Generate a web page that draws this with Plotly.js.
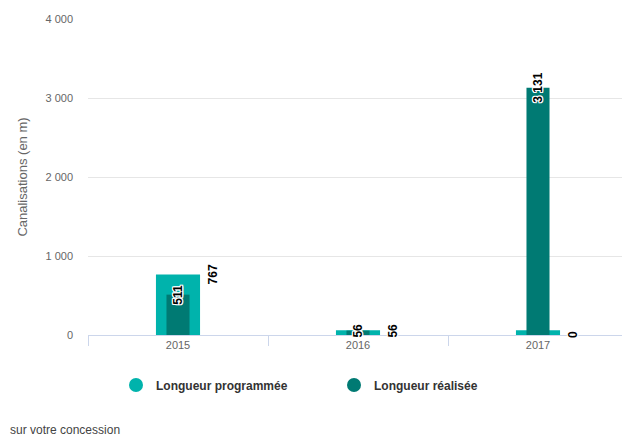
<!DOCTYPE html>
<html>
<head>
<meta charset="utf-8">
<script src="https://cdn.plot.ly/plotly-3.0.1.min.js"></script>
<style>
html,body{margin:0;padding:0;overflow:hidden;background:#fff;width:622px;height:436px;}
#chart{width:628px;height:436px;}
</style>
</head>
<body>
<div id="chart"></div>
<script>
const years = ["2015", "2016", "2017"];
const programmee = [767, 56, 0];
const realisee = [511, 56, 3131];
const seriesNames = ["Longueur programmée", "Longueur réalisée"];
const yTicks = [0, 1000, 2000, 3000, 4000];

const colProg = "#00b3ac";
const colReal = "#007a73";
const minPointLength = 60; // visual minimum bar height (like Highcharts minPointLength)

function fmt(v) {
  return String(v).replace(/\B(?=(\d{3})+(?!\d))/g, " ");
}

const outline = "1px 1px 0 #fff, -1px -1px 0 #fff, 1px -1px 0 #fff, -1px 1px 0 #fff, 0 1px 0 #fff, 0 -1px 0 #fff, 1px 0 0 #fff, -1px 0 0 #fff";

const traces = [
  {
    type: "bar", x: years, y: programmee.map(v => Math.max(v, minPointLength)),
    width: 0.245, marker: {color: colProg}, showlegend: false, hoverinfo: "skip"
  },
  {
    type: "bar", x: years, y: realisee,
    width: 0.128, marker: {color: colReal}, showlegend: false, hoverinfo: "skip"
  },
  {
    type: "scatter", mode: "markers", x: [years[0]], y: [null], name: seriesNames[0],
    marker: {color: colProg, size: 14, symbol: "circle"}
  },
  {
    type: "scatter", mode: "markers", x: [years[0]], y: [null], name: seriesNames[1],
    marker: {color: colReal, size: 14, symbol: "circle"}
  }
];

const labelFont = {family: "Liberation Sans, Arial, sans-serif", size: 12, color: "#000", weight: 700, shadow: outline};
const annotations = [];
years.forEach((yr, i) => {
  annotations.push({
    x: i, y: realisee[i], xref: "x", yref: "y", text: fmt(realisee[i]),
    showarrow: false, textangle: -90, xanchor: "center", yanchor: "middle",
    font: labelFont
  });
  annotations.push({
    x: i, y: programmee[i], xref: "x", yref: "y", text: fmt(programmee[i]),
    showarrow: false, textangle: -90, xanchor: "center", yanchor: "middle", xshift: 35,
    font: labelFont
  });
});
annotations.push({
  text: "sur votre concession", xref: "paper", yref: "paper",
  x: -80/540, y: -(430-335)/316, xanchor: "left", yanchor: "middle", showarrow: false,
  font: {family: "Liberation Sans, Arial, sans-serif", size: 12, color: "#444"}
});

const layout = {
  width: 628, height: 436,
  margin: {l: 88, r: 0, t: 19, b: 101},
  paper_bgcolor: "#fff", plot_bgcolor: "#fff",
  barmode: "overlay",
  separators: ", ",
  font: {family: "Liberation Sans, Arial, sans-serif", size: 11, color: "#666"},
  xaxis: {
    type: "category", categoryarray: years, categoryorder: "array",
    range: [-0.5, 2.5],
    tickson: "boundaries", ticks: "outside", ticklen: 10,
    tickcolor: "#ccd6eb", tickwidth: 1, showline: true, linecolor: "#ccd6eb", linewidth: 1,
    showgrid: false, zeroline: false, tickfont: {size: 11, color: "#666"}, fixedrange: true
  },
  yaxis: {
    range: [0, 4000], tickvals: yTicks, ticktext: yTicks.map(fmt),
    showgrid: true, gridcolor: "#e6e6e6", zeroline: false, showline: false,
    ticks: "", tickfont: {size: 11, color: "#666"}, ticklabelstandoff: 14,
    title: {text: "Canalisations (en m)", font: {size: 13, color: "#666"}, standoff: 14},
    fixedrange: true
  },
  legend: {
    orientation: "h", xref: "paper", yref: "paper",
    x: (116-88)/540, y: -(385-335)/316, xanchor: "left", yanchor: "middle",
    font: {size: 12, color: "#333", weight: 700},
    entrywidth: 173, entrywidthmode: "pixels",
    itemclick: false, itemdoubleclick: false
  },
  annotations: annotations,
  showlegend: true,
  hovermode: false
};

Plotly.newPlot("chart", traces, layout, {displayModeBar: false, staticPlot: true});
</script>
</body>
</html>
